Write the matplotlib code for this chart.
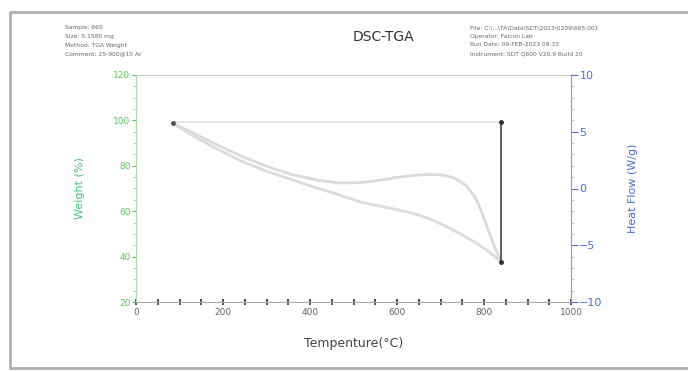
import matplotlib.pyplot as plt
from matplotlib.lines import Line2D
from matplotlib.ticker import MultipleLocator

# TGA run, heating then cooling
temp_up = [84, 130, 180, 245, 300, 359, 420, 470, 519, 560, 597, 640, 673, 700,
           730, 760, 780, 795, 810, 826, 840]
weight_up = [98.8, 94.6, 89.8, 84.0, 79.8, 76.1, 73.6, 72.4, 72.6, 73.6, 74.8, 75.8, 76.2, 76.0,
             74.8, 71.2, 66.0, 59.5, 51.5, 43.5, 37.5]
temp_dn = [84, 130, 180, 245, 300, 359, 400, 444, 519, 597, 640, 673, 710, 748, 780, 803, 825, 840]
weight_dn = [98.8, 93.3, 88.0, 81.8, 77.6, 73.9, 71.2, 68.6, 63.9, 60.8, 58.9, 56.8, 53.6, 49.8,
             46.2, 43.2, 40.0, 37.5]
# isothermal step lines
hold_temp = [84, 840]
hold_weight = [99.5, 99.5]
drop_temp = [840, 840]
drop_weight = [99.5, 37.5]

header_left = ["Sample: 665", "Size: 5.1580 mg", "Method: TGA Weight", "Comment: 25-900@10 Ar"]
header_right = ["File: C:\\...\\TA\\Data\\SDT\\2023\\0209\\665.001",
                "Operator: Falcon Lab",
                "Run Date: 09-FEB-2023 09:33",
                "Instrument: SDT Q600 V20.9 Build 20"]

green = '#55cc55'
blue = '#4a6fd4'

fig = plt.figure(figsize=(6.88, 3.71), dpi=100)
# page border (open on the right)
fx = [700/688, 10/688, 10/688, 700/688]
fy = [1 - 12/371, 1 - 12/371, 3/371, 3/371]
fig.lines.append(Line2D(fx, fy, transform=fig.transFigure, color='#b0b0b0', lw=2))

ax = fig.add_axes([136/688, 69/371, 435/688, 227/371])
ax.plot(temp_up, weight_up, color='#dadada', lw=2, solid_joinstyle='round')
ax.plot(temp_dn, weight_dn, color='#dcdcdc', lw=2, solid_joinstyle='round')
ax.plot(hold_temp, hold_weight, color='#e8e8e8', lw=1.5)
ax.plot(drop_temp, drop_weight, color='#444444', lw=1.2)
ax.plot(drop_temp, drop_weight, 'o', color='#333333', ms=2.5)
ax.plot([84], [99], 'o', color='#555555', ms=2.5)

ax.set_xlim(0, 1000)
ax.set_ylim(20, 120)
ax.xaxis.set_major_locator(MultipleLocator(200))
ax.xaxis.set_minor_locator(MultipleLocator(50))
ax.yaxis.set_major_locator(MultipleLocator(20))
ax.yaxis.set_minor_locator(MultipleLocator(5))
ax.tick_params(axis='x', which='both', direction='inout', length=5, width=1.2,
               colors='#333333', labelsize=6.5, labelcolor='#666666', pad=2)
ax.tick_params(axis='y', which='major', direction='out', length=3, colors=green,
               labelsize=6.5, labelcolor=green, pad=1)
ax.tick_params(axis='y', which='minor', direction='out', length=2, colors='#bbbbbb')
ax.spines['left'].set_color('#a8dca8')
ax.spines['bottom'].set_color('#aaaaaa')
ax.spines['top'].set_color('#cccccc')
ax.spines['right'].set_visible(False)
ax.set_xlabel('Tempenture(°C)', fontsize=9, color='#444444', labelpad=14)
ax.set_ylabel('Weight (%)', fontsize=8, color='#44c47a', labelpad=20)

ax2 = ax.twinx()
ax2.set_ylim(-10, 10)
ax2.yaxis.set_major_locator(MultipleLocator(5))
ax2.yaxis.set_minor_locator(MultipleLocator(1))
ax2.tick_params(axis='y', which='major', direction='out', length=5, colors=blue,
                labelsize=8, labelcolor=blue, pad=1)
ax2.tick_params(axis='y', which='minor', direction='out', length=2, colors='#bbbbbb')
for s in ['left', 'top', 'bottom']:
    ax2.spines[s].set_visible(False)
ax2.spines['right'].set_color('#8899cc')
ax2.set_ylabel('Heat Flow (W/g)', fontsize=8, color=blue, labelpad=18)

fig.text(383/688, 1 - 37/371, 'DSC-TGA', ha='center', va='center', fontsize=10, color='#333333')
for i, line in enumerate(header_left):
    fig.text(65/688, 1 - (28 + i * 8.5)/371, line, fontsize=4.3, color='#666666', va='center')
for i, line in enumerate(header_right):
    fig.text(470/688, 1 - (28 + i * 8.5)/371, line, fontsize=4.3, color='#666666', va='center')

fig.savefig('out.png', dpi=100)
